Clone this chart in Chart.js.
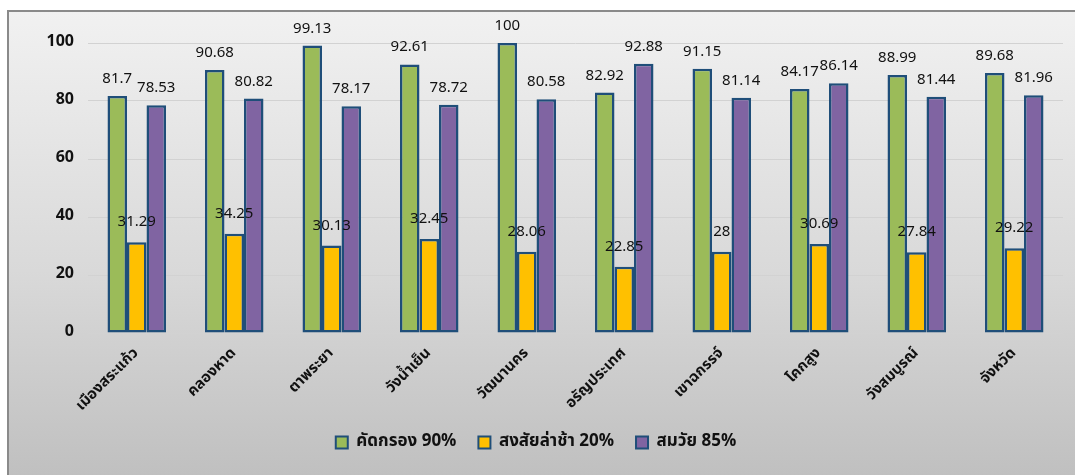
<!DOCTYPE html>
<html>
<head>
<meta charset="utf-8">
<script src="https://cdn.jsdelivr.net/npm/chart.js@4.4.1/dist/chart.umd.min.js"></script>
<style>
    html, body { margin: 0; padding: 0; background: #fff; }
    #frame {
        position: absolute; left: 7px; top: 10px; width: 1075px; height: 470px;
        border-left: 2px solid #8a8a8a; border-top: 2px solid #8a8a8a;
        background: linear-gradient(to bottom, #f1f1f1 0%, #d9d9d9 55%, #bfbfbf 100%);
    }
    #wrap { position: absolute; left: 0; top: 0; width: 1066px; height: 463px; }
</style>
</head>
<body>
<div id="frame"><div id="wrap"><canvas id="chart"></canvas></div></div>
<script>
    // --- Data ---
    const districts = ['เมืองสระแก้ว', 'คลองหาด', 'ตาพระยา', 'วังน้ำเย็น', 'วัฒนานคร', 'อรัญประเทศ', 'เขาฉกรรจ์', 'โคกสูง', 'วังสมบูรณ์', 'จังหวัด'];
    const screened = [81.7, 90.68, 99.13, 92.61, 100, 82.92, 91.15, 84.17, 88.99, 89.68];
    const suspectedDelay = [31.29, 34.25, 30.13, 32.45, 28.06, 22.85, 28, 30.69, 27.84, 29.22];
    const ageAppropriate = [78.53, 80.82, 78.17, 78.72, 80.58, 92.88, 81.14, 86.14, 81.44, 81.96];
    const seriesNames = ['คัดกรอง 90%', 'สงสัยล่าช้า 20%', 'สมวัย 85%'];
    const yTicks = [0, 20, 40, 60, 80, 100];

    const fontFamily = '"Noto Sans Thai", "Noto Sans", "DejaVu Sans", sans-serif';
    const edge = '#1f4e79';

    // --- Value labels above bars ---
    const valueLabels = {
        id: 'valueLabels',
        afterDatasetsDraw(chart) {
            const ctx = chart.ctx;
            ctx.save();
            ctx.font = '15px ' + fontFamily;
            ctx.fillStyle = '#111';
            ctx.textAlign = 'center';
            ctx.textBaseline = 'middle';
            chart.data.datasets.forEach((ds, i) => {
                const meta = chart.getDatasetMeta(i);
                const lift = i === 1 ? 19 : 16;
                meta.data.forEach((bar, j) => {
                    ctx.fillText(String(ds.data[j]), bar.x, bar.y - lift);
                });
            });
            ctx.restore();
        }
    };

    const makeSet = (label, data, color) => ({
        label, data, backgroundColor: color, borderColor: edge, borderWidth: 2.5, borderSkipped: false
    });

    new Chart(document.getElementById('chart'), {
        type: 'bar',
        data: {
            labels: districts,
            datasets: [
                makeSet(seriesNames[0], screened, '#9bbb59'),
                makeSet(seriesNames[1], suspectedDelay, '#ffc000'),
                makeSet(seriesNames[2], ageAppropriate, '#8064a2')
            ]
        },
        options: {
            responsive: true,
            maintainAspectRatio: false,
            animation: false,
            layout: { padding: { top: 31, right: 12, bottom: 14, left: 0 } },
            datasets: { bar: { categoryPercentage: 0.6, barPercentage: 1.0 } },
            plugins: {
                tooltip: { enabled: false },
                legend: {
                    position: 'bottom',
                    labels: {
                        color: '#111',
                        font: { family: fontFamily, size: 17, weight: 'bold' },
                        boxWidth: 12, boxHeight: 12, padding: 22,
                        generateLabels: (chart) => chart.data.datasets.map((ds, i) => ({
                            text: ds.label, fillStyle: ds.backgroundColor, strokeStyle: edge,
                            lineWidth: 2, datasetIndex: i, fontColor: '#111'
                        }))
                    }
                }
            },
            scales: {
                x: {
                    grid: { display: false },
                    border: { display: false },
                    afterFit: (axis) => { axis.height = 79; },
                    ticks: {
                        color: '#111', maxRotation: 45, minRotation: 45, padding: 4,
                        font: { family: fontFamily, size: 15, weight: 'bold' }
                    }
                },
                y: {
                    min: 0, max: 100,
                    afterBuildTicks: (axis) => { axis.ticks = yTicks.map(v => ({ value: v })); },
                    afterFit: (axis) => { axis.width = 79; },
                    grid: { color: '#d2d2d2', lineWidth: 1, drawTicks: false },
                    border: { display: false },
                    ticks: {
                        color: '#111', padding: 14,
                        font: { family: fontFamily, size: 16, weight: 'bold' }
                    }
                }
            }
        },
        plugins: [valueLabels]
    });
</script>
</body>
</html>
